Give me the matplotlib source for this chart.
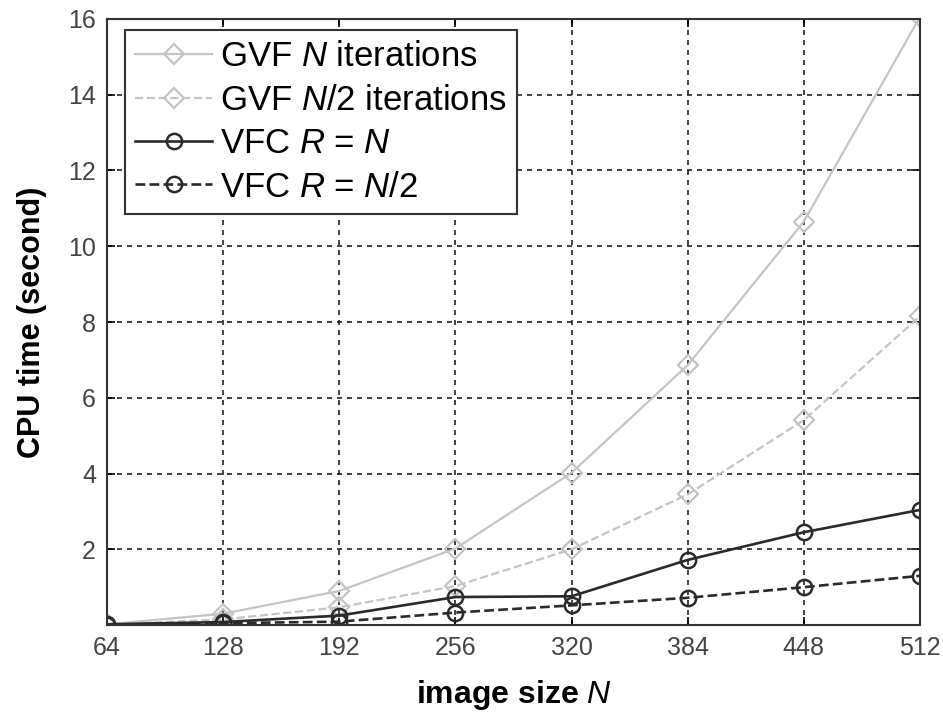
import matplotlib.pyplot as plt

plt.rcParams['font.family'] = ['Liberation Sans', 'DejaVu Sans']
plt.rcParams['mathtext.fontset'] = 'custom'
plt.rcParams['mathtext.it'] = 'Liberation Sans:italic'
plt.rcParams['mathtext.rm'] = 'Liberation Sans'

# data
sizes = [64, 128, 192, 256, 320, 384, 448, 512]
gvf_n = [0.02, 0.3, 0.9, 2.02, 4.02, 6.86, 10.65, 16.05]
gvf_half = [0.01, 0.15, 0.47, 1.03, 2.0, 3.45, 5.41, 8.15]
vfc_n = [0.02, 0.08, 0.25, 0.74, 0.76, 1.72, 2.45, 3.04]
vfc_half = [0.01, 0.05, 0.09, 0.33, 0.52, 0.72, 1.0, 1.3]

xticks = [64, 128, 192, 256, 320, 384, 448, 512]
yticks = [2, 4, 6, 8, 10, 12, 14, 16]

fig = plt.figure(figsize=(9.43, 7.16), dpi=100)
ax = fig.add_axes([0.1135, 0.127, 0.862, 0.8465])

light = '#c4c4c4'
dark = '#2a2a2a'

ax.plot(sizes, gvf_n, '-', color=light, lw=1.6, marker='D', ms=10,
        mfc='none', mec=light, mew=1.6, label=r'GVF $\mathit{N}$ iterations')
ax.plot(sizes, gvf_half, '--', color=light, lw=1.6, marker='D', ms=10,
        mfc='none', mec=light, mew=1.6, label=r'GVF $\mathit{N}$/2 iterations')
ax.plot(sizes, vfc_n, '-', color=dark, lw=1.9, marker='o', ms=11,
        mfc='none', mec=dark, mew=1.8, label=r'VFC $\mathit{R}$ = $\mathit{N}$')
ax.plot(sizes, vfc_half, '--', color=dark, lw=1.9, marker='o', ms=11,
        mfc='none', mec=dark, mew=1.8, label=r'VFC $\mathit{R}$ = $\mathit{N}$/2')

ax.set_xlim(64, 512)
ax.set_ylim(0, 16)
ax.set_xticks(xticks)
ax.set_yticks(yticks)
ax.tick_params(direction='in', length=6, width=1.2, top=True, right=True,
               labelsize=18, labelcolor='#444444', pad=8)
ax.grid(True, linestyle=(0, (3, 3)), color='#222222', lw=1.2)
for s in ax.spines.values():
    s.set_linewidth(1.5)
    s.set_color('#333333')

ax.set_xlabel(r'image size $\mathbf{\mathit{N}}$', fontsize=23, fontweight='bold',
              labelpad=13)
ax.set_ylabel('CPU time (second)', fontsize=22, fontweight='bold', labelpad=15)

leg = ax.legend(loc='upper left', bbox_to_anchor=(0.022, 0.982),
                borderaxespad=0, fontsize=25, handlelength=2.2,
                fancybox=False, framealpha=1, edgecolor='#333333',
                labelspacing=0.3, handletextpad=0.25, borderpad=0.3)
leg.get_frame().set_linewidth(1.5)

fig.savefig('out.png', dpi=100)
